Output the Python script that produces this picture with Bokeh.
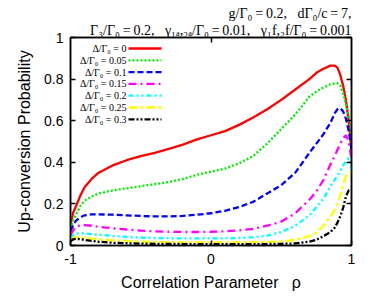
from bokeh.plotting import figure
from bokeh.models import Label, Arrow, LinearAxis, FixedTicker, Range1d, Title
from bokeh.embed import file_html
from bokeh.resources import INLINE

# ---- data ----
rho = [-1.0, -0.98, -0.96, -0.93, -0.9, -0.85, -0.8, -0.7, -0.6, -0.5, -0.4, -0.3, -0.2, -0.1,
       0.0, 0.1, 0.2, 0.3, 0.4, 0.5, 0.6, 0.7, 0.75, 0.8, 0.85, 0.88, 0.9, 0.92, 0.94, 0.96,
       0.98, 0.99, 1.0]

p_delta_000 = [0.10, 0.16, 0.19, 0.24, 0.28, 0.32, 0.35, 0.385, 0.41, 0.43, 0.445, 0.465, 0.485, 0.51,
               0.53, 0.55, 0.58, 0.615, 0.655, 0.70, 0.75, 0.80, 0.83, 0.85, 0.865, 0.865, 0.855, 0.82,
               0.77, 0.70, 0.60, 0.53, 0.45]
p_delta_005 = [0.08, 0.12, 0.15, 0.19, 0.215, 0.235, 0.25, 0.265, 0.275, 0.285, 0.295, 0.305, 0.32, 0.34,
               0.355, 0.37, 0.395, 0.43, 0.49, 0.56, 0.63, 0.715, 0.74, 0.76, 0.775, 0.78, 0.78, 0.77,
               0.73, 0.68, 0.62, 0.58, 0.52]
p_delta_010 = [0.07, 0.10, 0.12, 0.135, 0.145, 0.15, 0.15, 0.148, 0.145, 0.142, 0.14, 0.14, 0.142, 0.148,
               0.155, 0.167, 0.185, 0.21, 0.25, 0.29, 0.35, 0.445, 0.49, 0.535, 0.59, 0.635, 0.655, 0.66,
               0.645, 0.61, 0.55, 0.51, 0.46]
p_delta_015 = [0.05, 0.075, 0.09, 0.098, 0.098, 0.095, 0.09, 0.083, 0.077, 0.072, 0.068, 0.066, 0.065, 0.065,
               0.066, 0.068, 0.073, 0.08, 0.095, 0.115, 0.155, 0.22, 0.26, 0.315, 0.39, 0.43, 0.46, 0.49,
               0.515, 0.53, 0.50, 0.46, 0.41]
p_delta_020 = [0.035, 0.05, 0.057, 0.06, 0.058, 0.055, 0.052, 0.046, 0.041, 0.038, 0.036, 0.035, 0.034, 0.034,
               0.034, 0.035, 0.036, 0.04, 0.047, 0.065, 0.095, 0.145, 0.185, 0.225, 0.285, 0.315, 0.335, 0.36,
               0.385, 0.405, 0.42, 0.40, 0.36]
p_delta_025 = [0.025, 0.035, 0.04, 0.04, 0.037, 0.033, 0.03, 0.025, 0.021, 0.018, 0.017, 0.016, 0.015, 0.015,
               0.015, 0.015, 0.015, 0.016, 0.017, 0.02, 0.027, 0.045, 0.062, 0.095, 0.14, 0.17, 0.20, 0.24,
               0.29, 0.335, 0.35, 0.35, 0.35]
p_delta_030 = [0.02, 0.03, 0.032, 0.03, 0.027, 0.022, 0.018, 0.013, 0.011, 0.009, 0.008, 0.008, 0.007, 0.007,
               0.007, 0.007, 0.007, 0.007, 0.007, 0.008, 0.01, 0.018, 0.027, 0.045, 0.065, 0.085, 0.11, 0.14,
               0.18, 0.235, 0.265, 0.27, 0.27]

series_labels = ["Δ/Γ₀ = 0", "Δ/Γ₀ = 0.05", "Δ/Γ₀ = 0.1", "Δ/Γ₀ = 0.15",
                 "Δ/Γ₀ = 0.2", "Δ/Γ₀ = 0.25", "Δ/Γ₀ = 0.3"]
series_values = [p_delta_000, p_delta_005, p_delta_010, p_delta_015,
                 p_delta_020, p_delta_025, p_delta_030]
colors = ["#ff0000", "#00ee00", "#0000ff", "#ff00ff", "#00ffff", "#ffff00", "#000000"]
dashes = ["solid", "2 2", "6 3", "8 4 2 4", "5 3 2 3 2 3", "9 3 3 3", "6 2 2 2 2 2"]

x_ticks = [-1, 0, 1]
x_tick_labels = {-1: "-1", 0: "0", 1: "1"}
y_ticks = [0, 0.2, 0.4, 0.6, 0.8, 1.0]
y_tick_labels = {0: "0", 0.2: "0.2", 0.4: "0.4", 0.6: "0.6", 0.8: "0.8", 1: "1"}

SP = "\u00a0\u00a0\u00a0"
EQ = "\u2009=\u2009"
title_line1 = "g/Γ₀" + EQ + "0.2," + SP + "dΓ₀/c" + EQ + "7,"
title_line2 = ("Γ₃/Γ₀" + EQ + "0.2," + SP + "γ₁ₐ,₂ₐ/Γ₀" + EQ + "0.01," + SP
               + "γ₁f,₂f/Γ₀" + EQ + "0.001")

# ---- figure ----
p = figure(width=376, height=297, x_range=Range1d(-1, 1), y_range=Range1d(0, 1),
           output_backend="svg", toolbar_location=None,
           min_border_left=70, min_border_right=25, min_border_top=37, min_border_bottom=52)
p.xgrid.visible = False
p.ygrid.visible = False
p.outline_line_color = "black"
p.outline_line_width = 1.5
p.background_fill_color = "white"

for ax in (p.xaxis[0], p.yaxis[0]):
    ax.major_tick_in = 5
    ax.major_tick_out = 0
    ax.minor_tick_line_color = None
    ax.axis_line_color = "black"
    ax.axis_line_width = 1.5
    ax.major_tick_line_width = 1.5
    ax.major_label_text_font = "Liberation Sans"
    ax.major_label_text_font_size = "14px"
    ax.major_label_text_color = "black"
    ax.axis_label_text_font = "Liberation Sans"
    ax.axis_label_text_font_size = "16px"
    ax.axis_label_text_font_style = "normal"
    ax.axis_label_text_color = "black"

p.xaxis.ticker = FixedTicker(ticks=x_ticks)
p.xaxis.major_label_overrides = x_tick_labels
p.yaxis.ticker = FixedTicker(ticks=y_ticks)
p.yaxis.major_label_overrides = y_tick_labels
p.xaxis.axis_label = "Correlation Parameter\u00a0\u00a0\u00a0ρ"
p.yaxis.axis_label = "Up-conversion Probability"
p.xaxis.major_label_standoff = 8
p.yaxis.major_label_standoff = 7
p.xaxis.axis_label_standoff = 7
p.yaxis.axis_label_standoff = 8

# mirror axes (ticks only, empty labels)
top_ax = LinearAxis(ticker=FixedTicker(ticks=[0]), major_tick_in=5, major_tick_out=0,
                    minor_tick_line_color=None, major_label_overrides={0: ""},
                    major_label_standoff=0,
                    axis_line_width=1.5, major_tick_line_width=1.5)
right_ax = LinearAxis(ticker=FixedTicker(ticks=y_ticks), major_tick_in=5, major_tick_out=0,
                      minor_tick_line_color=None,
                      major_label_overrides={t: "" for t in y_ticks},
                      axis_line_width=1.5, major_tick_line_width=1.5)
p.add_layout(top_ax, "above")
p.add_layout(right_ax, "right")

# header text (two right-aligned lines above the frame)
p.add_layout(Title(text=title_line2, align="right", text_font="Liberation Serif",
                   text_font_size="14px", text_font_style="normal", text_color="black",
                   standoff=0), "above")
p.add_layout(Title(text=title_line1, align="right", text_font="Liberation Serif",
                   text_font_size="14px", text_font_style="normal", text_color="black",
                   standoff=0), "above")

# curves
for vals, col, dash in zip(series_values, colors, dashes):
    p.line(rho, vals, line_color=col, line_width=2.3, line_dash=dash)

# legend (text right-aligned, sample line on the right)
leg_text_x = 56
leg_line_x0, leg_line_x1 = 58, 91
leg_top = 197
leg_step = 11.8
for i, (lab, col, dash) in enumerate(zip(series_labels, colors, dashes)):
    yy = leg_top - i * leg_step
    p.add_layout(Label(x=leg_text_x, y=yy, x_units="screen", y_units="screen", text=lab,
                       text_align="right", text_baseline="middle",
                       text_font="Liberation Serif", text_font_size="10px", text_color="black"))
    p.add_layout(Arrow(x_start=leg_line_x0, y_start=yy, x_end=leg_line_x1, y_end=yy,
                       start_units="screen", end_units="screen", end=None,
                       line_color=col, line_width=2.3, line_dash=dash))

open("out.html", "w").write(file_html(p, INLINE))
